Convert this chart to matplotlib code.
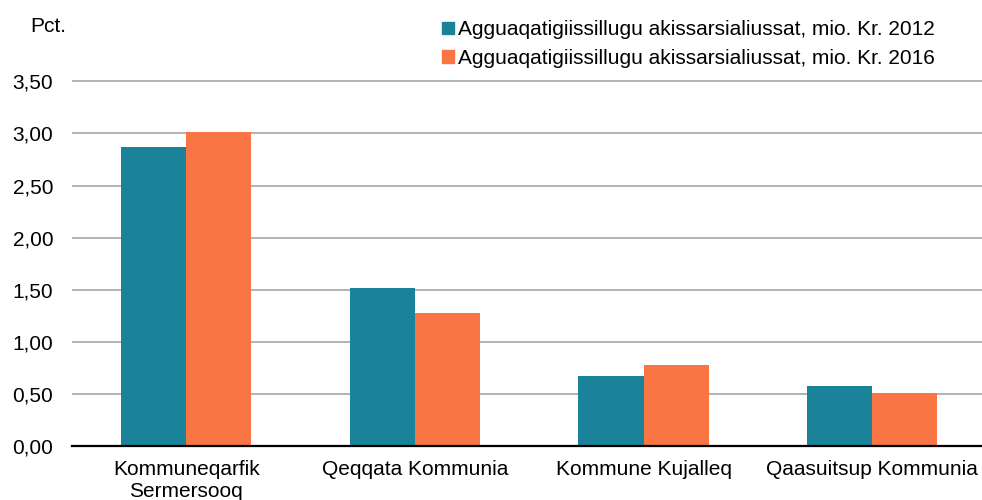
import numpy as np
import matplotlib
matplotlib.use('Agg')
import matplotlib.pyplot as plt
from matplotlib.patches import Patch

plt.rcParams['font.family'] = ['Liberation Sans', 'DejaVu Sans']

categories = ['Kommuneqarfik\nSermersooq', 'Qeqqata Kommunia', 'Kommune Kujalleq', 'Qaasuitsup Kommunia']
v2012 = [2.87, 1.52, 0.67, 0.58]
v2016 = [3.01, 1.28, 0.78, 0.51]
series_names = ['Agguaqatigiissillugu akissarsialiussat, mio. Kr. 2012',
                'Agguaqatigiissillugu akissarsialiussat, mio. Kr. 2016']
yticks = [0.0, 0.5, 1.0, 1.5, 2.0, 2.5, 3.0, 3.5]
ytick_labels = ['0,00', '0,50', '1,00', '1,50', '2,00', '2,50', '3,00', '3,50']

teal = '#1B8399'
orange = '#F97544'
fs = 15

fig = plt.figure(figsize=(9.82, 5.0), dpi=100)
ymax = 3.55
ax = fig.add_axes([72/982, 54/500, 910/982, ymax*104.2/500])

x = np.arange(len(categories))
w = 0.285
ax.bar(x - w/2, v2012, w, color=teal, zorder=3)
ax.bar(x + w/2, v2016, w, color=orange, zorder=3)

ax.set_xlim(-0.5, 3.48)
ax.set_ylim(0, ymax)
ax.set_yticks(yticks)
ax.set_yticklabels(ytick_labels)
ax.set_xticks(x)
ax.set_xticklabels(categories, linespacing=1.2)
ax.tick_params(axis='y', length=0, pad=13.5, labelsize=fs)
ax.tick_params(axis='x', length=0, pad=10, labelsize=fs)
ax.yaxis.grid(True, color='#A6A6A6', linewidth=1.2, zorder=0)
ax.set_axisbelow(True)
for s in ['top', 'right', 'left']:
    ax.spines[s].set_visible(False)
ax.spines['bottom'].set_color('black')
ax.spines['bottom'].set_linewidth(1.6)
ax.spines['bottom'].set_zorder(4)

fig.text(48/982, 1 - 27/500, 'Pct.', ha='center', va='center', fontsize=fs)

handles = [Patch(color=teal), Patch(color=orange)]
fig.legend(handles, series_names, loc='upper left', bbox_to_anchor=(432/982, 1 - 10/500),
           frameon=False, fontsize=fs, handlelength=0.55, handleheight=0.55,
           handletextpad=0.2, labelspacing=0.45, borderpad=0)

fig.savefig('out.png', dpi=100)
